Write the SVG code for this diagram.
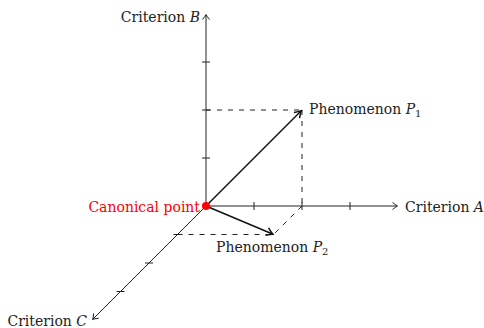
<svg xmlns="http://www.w3.org/2000/svg" width="484" height="328" viewBox="0 0 484 328">
<style>
.lbl{font-family:"DejaVu Serif","Liberation Serif",serif;font-size:14px;fill:#222}
.it{font-style:italic}
.sub{font-size:10px}
.axis{stroke:#222;stroke-width:1;fill:none}
.tick{stroke:#222;stroke-width:1}
.dash{stroke:#222;stroke-width:1;stroke-dasharray:5 6;fill:none}
.vec{stroke:#111;stroke-width:1.5;fill:none}
</style>
<defs>
<marker id="ah" viewBox="-6 -4 8 8" refX="0" refY="0" markerWidth="8" markerHeight="8" markerUnits="userSpaceOnUse" orient="auto">
<path d="M-4.5,-3.5 Q-1.5,-1 0.5,0 Q-1.5,1 -4.5,3.5" fill="none" stroke="#222" stroke-width="1"/>
</marker>
<marker id="ahv" viewBox="-7 -5 9 10" refX="0" refY="0" markerWidth="9" markerHeight="10" markerUnits="userSpaceOnUse" orient="auto">
<path d="M-6,-4 Q-2,-1 0.5,0 Q-2,1 -6,4" fill="none" stroke="#111" stroke-width="1.5"/>
</marker>
</defs>
<g id="connectors">
<line class="dash" x1="206" y1="110" x2="302" y2="110"/>
<line class="dash" x1="302" y1="110" x2="302" y2="206"/>
<line class="dash" x1="302" y1="206" x2="273.5" y2="234.5"/>
<line class="dash" x1="177.5" y1="234.5" x2="273.5" y2="234.5"/>
<line id="axisB" class="axis" x1="206" y1="206" x2="206" y2="15" marker-end="url(#ah)"/>
<line id="axisA" class="axis" x1="206" y1="206" x2="397" y2="206" marker-end="url(#ah)"/>
<line id="axisC" class="axis" x1="206" y1="206" x2="93" y2="319" marker-end="url(#ah)"/>
<g class="tick">
<line x1="202" y1="62" x2="210" y2="62"/>
<line x1="202" y1="110" x2="210" y2="110"/>
<line x1="202" y1="158" x2="210" y2="158"/>
<line x1="254" y1="202" x2="254" y2="210"/>
<line x1="302" y1="202" x2="302" y2="210"/>
<line x1="350" y1="202" x2="350" y2="210"/>
<line x1="173.5" y1="234.5" x2="181.5" y2="234.5"/>
<line x1="145" y1="263" x2="153" y2="263"/>
<line x1="116.5" y1="291.5" x2="124.5" y2="291.5"/>
</g>
<line id="vecP1" class="vec" x1="206" y1="206" x2="301" y2="111" marker-end="url(#ahv)"/>
<line id="vecP2" class="vec" x1="206" y1="206" x2="272.5" y2="234" marker-end="url(#ahv)"/>
</g>
<g id="origin">
<circle cx="206" cy="206" r="4" fill="#ff0000"/>
<text class="lbl" x="200" y="212" text-anchor="end" style="fill:#ff0000">Canonical point</text>
</g>
<g id="labelB"><text class="lbl" x="200" y="22" text-anchor="end">Criterion <tspan class="it">B</tspan></text></g>
<g id="labelA"><text class="lbl" x="405" y="212">Criterion <tspan class="it">A</tspan></text></g>
<g id="labelC"><text class="lbl" x="87" y="326" text-anchor="end">Criterion <tspan class="it">C</tspan></text></g>
<g id="P1"><text class="lbl" x="309" y="114">Phenomenon <tspan class="it">P</tspan><tspan class="sub" dy="3">1</tspan></text></g>
<g id="P2"><text class="lbl" x="216" y="252">Phenomenon <tspan class="it">P</tspan><tspan class="sub" dy="3">2</tspan></text></g>
</svg>
